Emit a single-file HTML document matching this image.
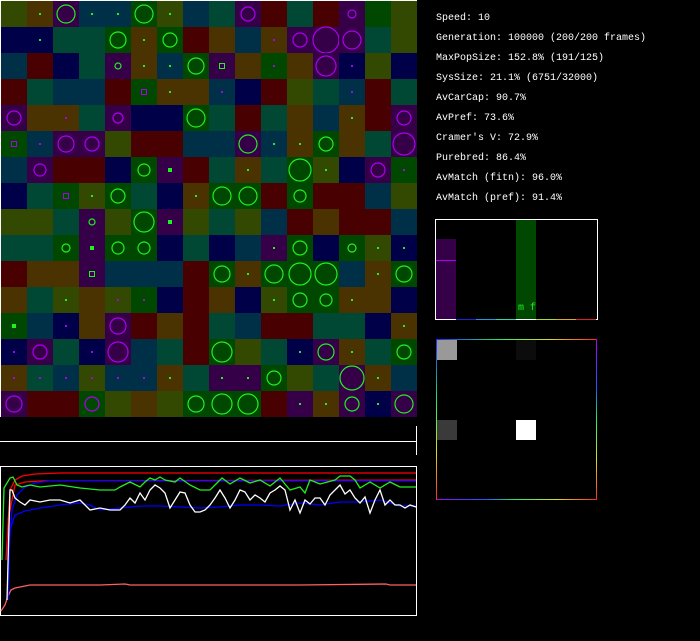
<!DOCTYPE html>
<html><head><meta charset="utf-8">
<style>
html,body{margin:0;padding:0;background:#000;width:700px;height:641px;overflow:hidden}
#txt{position:absolute;left:436px;top:9px;font:10px "Liberation Mono",monospace;color:#fff;line-height:20px;white-space:pre}
svg{position:absolute;left:0;top:0}
</style></head><body>
<svg id="s" width="700" height="641" viewBox="0 0 700 641" shape-rendering="crispEdges">
<rect x="0.5" y="0.5" width="416" height="416" fill="none" stroke="#fff"/>
<g id="grid"></g>
<line x1="0" y1="441.5" x2="416" y2="441.5" stroke="#fff"/>
<line x1="416.5" y1="426" x2="416.5" y2="455" stroke="#fff"/>
<rect x="0.5" y="466.5" width="416" height="149" fill="none" stroke="#fff"/>
<g fill="none" stroke-width="1.3" shape-rendering="auto" stroke-linejoin="miter">
<polyline stroke="#ff6060" points="1,611 5,605 8,596 11,590 15,588 20,587 30,585 100,585 125,584 130,585 300,585 386,584 390,585 416,585"/>
<polyline stroke="#ff0000" points="6,560 10,490 15,480 22,476 35,474 60,473 416,473"/>
<polyline stroke="#ff0000" points="8,520 15,485 25,482 40,481 416,480"/>
<polyline stroke="#0000ff" points="8,560 12,510 17,495 25,487 35,483 50,481 416,481"/>
<polyline stroke="#22ee22" points="2,560 4,488 10,478 13,477 17,485 22,487 30,485 40,487 60,485 80,488 100,490 115,490 120,487 130,482 140,487 145,482 150,478 155,480 160,477 165,480 175,482 180,478 190,485 200,490 210,490 218,482 222,478 230,484 240,478 250,483 260,480 270,486 280,478 285,484 290,490 300,487 305,493 310,480 320,484 335,480 340,476 350,476 355,480 360,488 370,482 380,488 390,482 400,487 416,487"/>
<polyline stroke="#0000ff" points="8,600 10,530 15,515 25,511 40,508 60,505 80,503 90,505 100,510 120,508 140,506 160,506 180,507 200,508 220,507 240,505 260,505 280,506 300,503 320,505 340,502 360,502 380,500 400,506 416,506"/>
<polyline stroke="#ffffff" points="7,600 10,490 12,490 15,498 20,502 25,505 30,500 40,502 50,500 60,500 70,503 80,500 85,505 90,510 100,508 110,510 120,510 125,505 130,498 135,503 140,493 145,500 150,490 155,485 160,488 165,493 170,508 175,500 180,492 185,493 190,505 195,512 200,512 205,510 210,505 215,498 220,490 225,498 230,508 235,500 240,490 245,492 250,500 255,495 260,498 265,502 270,493 275,490 280,486 285,490 290,510 295,500 300,513 305,500 310,504 315,498 320,498 325,505 330,495 335,490 340,485 345,494 350,490 355,498 360,503 365,497 370,513 375,500 380,490 385,505 390,500 395,505 400,505 405,508 410,505 416,507"/>
</g>
<rect x="436" y="239" width="20" height="80" fill="#360048"/>
<rect x="436" y="260" width="20" height="1" fill="#aa00ee"/>
<rect x="516" y="220" width="20" height="99" fill="#004800"/>
<rect x="435.5" y="219.5" width="162" height="100" fill="none" stroke="#fff"/>
<rect x="456" y="319" width="20" height="1" fill="#2222dd"/>
<rect x="476" y="319" width="20" height="1" fill="#2299dd"/>
<rect x="496" y="319" width="20" height="1" fill="#22ddaa"/>
<rect x="536" y="319" width="20" height="1" fill="#aadd22"/>
<rect x="556" y="319" width="20" height="1" fill="#ddaa22"/>
<rect x="576" y="319" width="20" height="1" fill="#dd2222"/>
<text x="518" y="310" font-family="Liberation Mono,monospace" font-size="10" fill="#22ee22">m f</text>
<defs>
<linearGradient id="gt" x1="0" x2="1"><stop offset="0" stop-color="#2222ff"/><stop offset="0.4" stop-color="#22ee66"/><stop offset="0.7" stop-color="#dddd22"/><stop offset="1" stop-color="#ff2222"/></linearGradient>
<linearGradient id="gb" x1="0" x2="1"><stop offset="0" stop-color="#aa00ff"/><stop offset="0.3" stop-color="#2255ff"/><stop offset="0.5" stop-color="#22ee66"/><stop offset="0.75" stop-color="#dddd22"/><stop offset="1" stop-color="#ff2222"/></linearGradient>
<linearGradient id="gl" x1="0" x2="0" y1="0" y2="1"><stop offset="0" stop-color="#2222ff"/><stop offset="0.4" stop-color="#22ee66"/><stop offset="0.7" stop-color="#dddd22"/><stop offset="1" stop-color="#ff2222"/></linearGradient>
<linearGradient id="gr" x1="0" x2="0" y1="0" y2="1"><stop offset="0" stop-color="#aa00ff"/><stop offset="0.3" stop-color="#2255ff"/><stop offset="0.5" stop-color="#22ee66"/><stop offset="0.75" stop-color="#dddd22"/><stop offset="1" stop-color="#ff2222"/></linearGradient>
</defs>
<rect x="437" y="340" width="20" height="20" fill="#999"/>
<rect x="516" y="340" width="20" height="20" fill="#0c0c0c"/>
<rect x="437" y="420" width="20" height="20" fill="#3a3a3a"/>
<rect x="516" y="420" width="20" height="20" fill="#fff"/>
<rect x="436" y="339" width="161" height="1" fill="url(#gt)"/>
<rect x="436" y="499" width="161" height="1" fill="url(#gb)"/>
<rect x="436" y="339" width="1" height="161" fill="url(#gl)"/>
<rect x="596" y="339" width="1" height="161" fill="url(#gr)"/>
</svg>
<div id="txt">Speed: 10
Generation: 100000 (200/200 frames)
MaxPopSize: 152.8% (191/125)
SysSize: 21.1% (6751/32000)
AvCarCap: 90.7%
AvPref: 73.6%
Cramer's V: 72.9%
Purebred: 86.4%
AvMatch (fitn): 96.0%
AvMatch (pref): 91.4%</div>
<script>
var rows=[
"O Bgd Pgc9 Sgd Sgd Ggc9 Ogd S T Ppc7 R T R Ppc4 G O",
"N Ngd T T Ggc8 Bgd Ggc7 R B S Bpd Ppc7 Ppc13 Ppc9 T O",
"S R N T Pgc3 Bgd Sgd Ggc8 Pgs B Gpd B Ppc10 Npd O N",
"R T S S R Gps Bgd B Spd N R O T Spd R T",
"Ppc7 B Bpd T Ppc5 N N Ggc9 T R T B S Bgd R Ppc7",
"Gps Spd Ppc8 Ppc7 O R R S S Pgc9 Sgd Bgd Ggc7 B T Ppc11",
"S Ppc6 R R N Ggc6 PgD R T Bgd T Ggc11 Ogd N Ppc7 Gpd",
"N T Gps Ogd Ggc7 T N Bgd Ggc9 Ggc9 R Ggc6 R R S O",
"O O T Pgc3 O Ggc10 PgD O T O S R B R R S",
"T T Ggc4 PgD Ggc6 Ggc6 N T N S Pgd Ggc7 N Ggc4 Ogd Ngd",
"R B B Pgs S S S R Ggc8 Bgd Ggc9 Ggc11 Ggc11 S Bgd Ggc8",
"B T Ogd B Opd Gpd N R B N Ogd Ggc7 Ggc6 Bgd B N",
"GgD S Npd B Ppc8 R B R T S R R T T N Bgd",
"Npd Ppc7 T Npd Ppc10 S T R Ggc10 O T Ngd Pgc8 Bgd T Ggc7",
"Bpd Tpd Spd Opd Spd Spd Bgd T Pgd Pgd Ggc7 O T Pgc12 Bgd S",
"Ppc8 R R Gpc7 O B O Ggc8 Ggc10 Ggc10 R Pgd Bgd Pgc7 Ngd Pgc9"];
var C={O:"#334800",B:"#4a3300",P:"#360048",T:"#004834",N:"#000048",S:"#003048",R:"#480000",G:"#004800"};
var M={g:"#22ee22",p:"#aa00ee"};
var h="";
rows.forEach(function(r,y){r.split(" ").forEach(function(t,x){
 var px=1+26*x,py=1+26*y,cx=px+13,cy=py+13;
 h+='<rect x="'+px+'" y="'+py+'" width="26" height="26" fill="'+C[t[0]]+'"/>';
 if(t.length>1){var col=M[t[1]],k=t[2];
  if(k=="d")h+='<rect x="'+(cx-1)+'" y="'+(cy-1)+'" width="2" height="2" fill="'+col+'"/>';
  else if(k=="D")h+='<rect x="'+(cx-2)+'" y="'+(cy-2)+'" width="4" height="4" fill="'+col+'"/>';
  else if(k=="s")h+='<rect x="'+(cx-2.5)+'" y="'+(cy-2.5)+'" width="5" height="5" fill="none" stroke="'+col+'"/>';
  else if(k=="c"){var rr=+t.slice(3);h+='<circle cx="'+cx+'" cy="'+cy+'" r="'+rr+'" fill="none" stroke="'+col+'" stroke-width="1.2" shape-rendering="auto"/>';}
 }
});});
document.getElementById("grid").innerHTML=h;
</script>
</body></html>
